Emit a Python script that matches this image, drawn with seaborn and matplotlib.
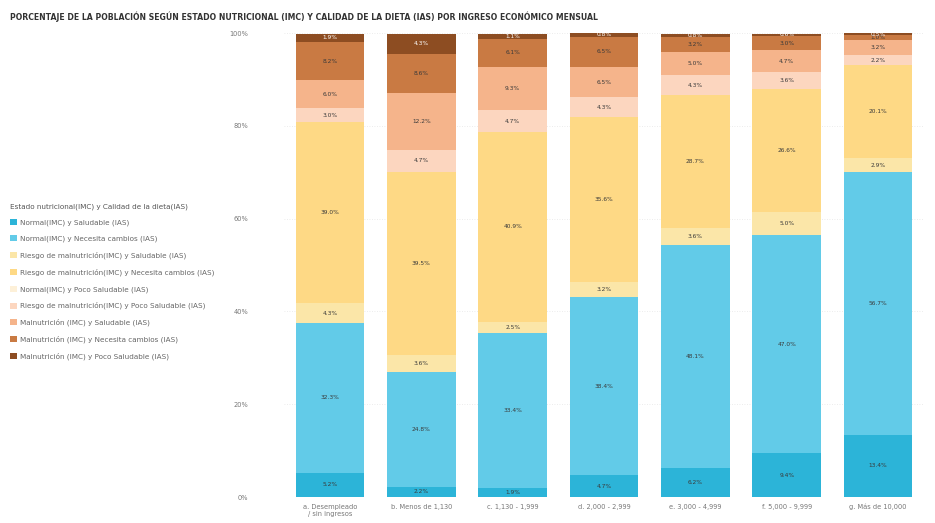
import numpy as np
import pandas as pd
import matplotlib
matplotlib.use("Agg")
import matplotlib.pyplot as plt
from matplotlib.patches import Patch
import seaborn as sns

sns.set_style("white")
plt.rcParams['font.family'] = ['DejaVu Sans']

ingresos = ["a. Desempleado\n/ sin ingresos", "b. Menos de 1,130", "c. 1,130 - 1,999",
            "d. 2,000 - 2,999", "e. 3,000 - 4,999", "f. 5,000 - 9,999", "g. Más de 10,000"]

categorias = [
    "Normal(IMC) y Saludable (IAS)",
    "Normal(IMC) y Necesita cambios (IAS)",
    "Riesgo de malnutrición(IMC) y Saludable (IAS)",
    "Riesgo de malnutrición(IMC) y Necesita cambios (IAS)",
    "Normal(IMC) y Poco Saludable (IAS)",
    "Riesgo de malnutrición(IMC) y Poco Saludable (IAS)",
    "Malnutrición (IMC) y Saludable (IAS)",
    "Malnutrición (IMC) y Necesita cambios (IAS)",
    "Malnutrición (IMC) y Poco Saludable (IAS)",
]

# porcentajes por categoria, un valor por tramo de ingreso
normal_saludable = [5.2, 2.2, 1.9, 4.7, 6.2, 9.4, 13.4]
normal_cambios = [32.3, 24.8, 33.4, 38.4, 48.1, 47.0, 56.7]
riesgo_saludable = [4.3, 3.6, 2.5, 3.2, 3.6, 5.0, 2.9]
riesgo_cambios = [39.0, 39.5, 40.9, 35.6, 28.7, 26.6, 20.1]
normal_poco = [0.0, 0.0, 0.0, 0.0, 0.0, 0.0, 0.0]
riesgo_poco = [3.0, 4.7, 4.7, 4.3, 4.3, 3.6, 2.2]
malnut_saludable = [6.0, 12.2, 9.3, 6.5, 5.0, 4.7, 3.2]
malnut_cambios = [8.2, 8.6, 6.1, 6.5, 3.2, 3.0, 1.0]
malnut_poco = [1.9, 4.3, 1.1, 0.8, 0.8, 0.6, 0.5]

series = [normal_saludable, normal_cambios, riesgo_saludable, riesgo_cambios, normal_poco,
          riesgo_poco, malnut_saludable, malnut_cambios, malnut_poco]
colores = ["#2cb4d8", "#62cbe8", "#fbe6a8", "#fed985", "#fdf0d8",
           "#fcd6bf", "#f5b48b", "#c97a43", "#8d4d22"]

valores = np.array(series) / 100.0
acumulado = np.cumsum(valores, axis=0)

fig = plt.figure(figsize=(9.35, 5.23), dpi=100)
ax = fig.add_axes([0.304, 0.0497, 0.684, 0.887])

for y in [0.2, 0.4, 0.6, 0.8, 1.0]:
    ax.axhline(y, color="#e6e6e6", lw=0.6, ls=(0, (1, 2)), zorder=0)

# barras acumuladas: de arriba hacia abajo, cada una tapa la anterior
for k in range(len(series) - 1, -1, -1):
    df = pd.DataFrame({"ingreso": ingresos, "valor": acumulado[k]})
    sns.barplot(data=df, x="ingreso", y="valor", color=colores[k], width=0.75,
                saturation=1, ax=ax, zorder=2, linewidth=0)

for k in range(len(series)):
    for i in range(len(ingresos)):
        v = valores[k][i]
        if v <= 0:
            continue
        yc = acumulado[k][i] - v / 2
        col = "#ffffff" if k == 8 else "#3a3a3a"
        ax.text(i, yc, f"{v * 100:.1f}%", ha="center", va="center", fontsize=4.2,
                color=col, zorder=3)

ax.set_xlim(-0.5, 6.5)
ax.set_ylim(0, 1)
ax.set_yticks([0, 0.2, 0.4, 0.6, 0.8, 1.0])
ax.set_yticklabels(["0%", "20%", "40%", "60%", "80%", "100%"])
ax.tick_params(axis="y", labelsize=4.8, labelcolor="#777777", pad=26, length=0)
ax.tick_params(axis="x", labelsize=4.8, labelcolor="#777777", pad=5, length=0)
ax.set_xlabel("")
ax.set_ylabel("")
sns.despine(ax=ax, left=True, bottom=True)

handles = [Patch(facecolor=c, edgecolor="none") for c in colores]
fig.legend(handles, categorias, loc="upper left", bbox_to_anchor=(0.008, 0.617),
           frameon=False, fontsize=5.2, labelcolor="#666666",
           title="Estado nutricional(IMC) y Calidad de la dieta(IAS)",
           title_fontsize=5.2, alignment="left", handlelength=0.9, handleheight=0.9,
           handletextpad=0.5, labelspacing=1.3, borderaxespad=0)
fig.legends[0].get_title().set_color("#555555")

fig.text(0.011, 0.968, "PORCENTAJE DE LA POBLACIÓN SEGÚN ESTADO NUTRICIONAL (IMC) Y CALIDAD DE LA DIETA (IAS) "
         "POR INGRESO ECONÓMICO MENSUAL", fontsize=5.6, fontweight="bold", color="#333333",
         ha="left", va="center")

fig.savefig("out.png", dpi=100)
